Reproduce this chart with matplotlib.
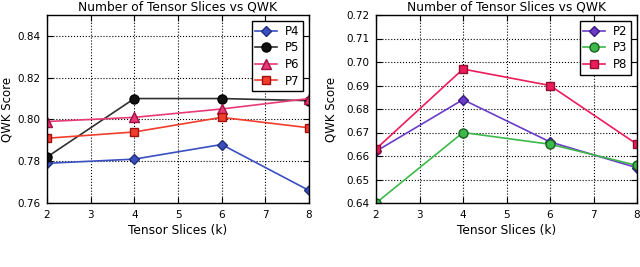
import matplotlib
matplotlib.use("Agg")
import matplotlib.pyplot as plt

k = [2, 4, 6, 8]
p4 = [0.779, 0.781, 0.788, 0.766]
p5 = [0.782, 0.810, 0.810, 0.809]
p6 = [0.799, 0.801, 0.805, 0.810]
p7 = [0.791, 0.794, 0.801, 0.796]
p2 = [0.662, 0.684, 0.666, 0.655]
p3 = [0.640, 0.670, 0.665, 0.656]
p8 = [0.663, 0.697, 0.690, 0.665]

left_yticks = [0.76, 0.78, 0.80, 0.82, 0.84]
right_yticks = [0.64, 0.65, 0.66, 0.67, 0.68, 0.69, 0.70, 0.71, 0.72]
xticks = [2, 3, 4, 5, 6, 7, 8]

plt.rcParams['font.family'] = ['DejaVu Sans']
plt.rcParams['font.size'] = 8

fig = plt.figure(figsize=(6.4, 2.67), dpi=100)
W, H = 640, 267
ax1 = fig.add_axes([47 / W, 1 - 203 / H, (309 - 47) / W, (203 - 15) / H])
ax2 = fig.add_axes([376 / W, 1 - 203 / H, (637 - 376) / W, (203 - 15) / H])

ms = 6.5
ax1.plot(k, p4, color='#3a4fc0', marker='D', ms=5.5, mec='#22307a', lw=1.2, label='P4')
ax1.plot(k, p5, color='#303030', marker='o', ms=ms, mfc='#111111', mec='#000000', lw=1.2, label='P5')
ax1.plot(k, p6, color='#e83a78', marker='^', ms=ms, mec='#a01040', lw=1.2, label='P6')
ax1.plot(k, p7, color='#f23c2c', marker='s', ms=ms - 0.5, mec='#a01010', lw=1.2, label='P7')
ax1.set_ylim(0.76, 0.85)
ax1.set_yticks(left_yticks)
ax1.set_yticklabels(['%.2f' % v for v in left_yticks])

ax2.plot(k, p2, color='#6a3cc8', marker='D', ms=5.5, mec='#3a1a80', lw=1.2, label='P2')
ax2.plot(k, p3, color='#3db84a', marker='o', ms=ms, mec='#1a6020', lw=1.2, label='P3')
ax2.plot(k, p8, color='#ec1c5c', marker='s', ms=ms - 0.5, mec='#901030', lw=1.2, label='P8')
ax2.set_ylim(0.64, 0.72)
ax2.set_yticks(right_yticks)
ax2.set_yticklabels(['%.2f' % v for v in right_yticks])

for ax in (ax1, ax2):
    ax.legend(loc='upper right', bbox_to_anchor=(0.99, 0.985), fancybox=False,
              edgecolor='black', framealpha=1, borderpad=0.3, labelspacing=0.3,
              handlelength=1.8, handletextpad=0.7, fontsize=8.5, borderaxespad=0.3)
    ax.set_xlim(2, 8)
    ax.set_xticks(xticks)
    ax.grid(True, linestyle=':', color='black', linewidth=0.8)
    ax.set_axisbelow(True)
    ax.set_title('Number of Tensor Slices vs QWK', fontsize=8.8, pad=3)
    ax.set_xlabel('Tensor Slices (k)', fontsize=8.8, labelpad=3)
    ax.set_ylabel('QWK Score', fontsize=8.5)
    ax.tick_params(direction='in', length=4, labelsize=7.5, top=True, right=True, pad=5)
    for s in ax.spines.values():
        s.set_linewidth(1.0)

ax1.yaxis.set_label_coords(-0.128, 0.5)
ax2.yaxis.set_label_coords(-0.149, 0.5)

fig.savefig('out.png', dpi=100)
